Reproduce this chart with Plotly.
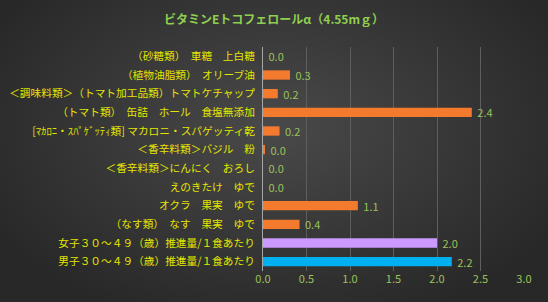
import base64
import struct
import zlib
import plotly.graph_objects as go

categories = [
    "（砂糖類）　車糖　上白糖",
    "（植物油脂類）　オリーブ油",
    "＜調味料類＞（トマト加工品類）トマトケチャップ",
    "（トマト類）　缶詰　ホール　食塩無添加",
    "[ﾏｶﾛﾆ・ｽﾊﾟｹﾞｯﾃｨ類] マカロニ・スパゲッティ乾",
    "＜香辛料類＞バジル　粉",
    "＜香辛料類＞にんにく　おろし",
    "えのきたけ　ゆで",
    "オクラ　果実　ゆで",
    "（なす類）　なす　果実　ゆで",
    "女子３０～４９（歳）推進量/１食あたり",
    "男子３０～４９（歳）推進量/１食あたり",
]
values = [0.0, 0.31, 0.17, 2.4, 0.19, 0.02, 0.0, 0.0, 1.09, 0.42, 2.0, 2.17]
colors = ["#f47a2e"] * 10 + ["#cc99ff", "#00b0f0"]
title = "ビタミンEトコフェロールα（4.55mｇ）"
xticks = [0.0, 0.5, 1.0, 1.5, 2.0, 2.5, 3.0]

font = "Noto Sans CJK JP"
green = "#9bc25a"


def radial_png(w, h, inner, outer):
    rows = []
    for j in range(h):
        row = bytearray([0])
        for i in range(w):
            dx = (i / (w - 1) - 0.5) / 0.5
            dy = (j / (h - 1) - 0.42) / 0.58
            d = min(1.0, (dx * dx + dy * dy) ** 0.5 / 1.2)
            c = int(round(inner + (outer - inner) * d))
            row += bytes([c, c, c])
        rows.append(bytes(row))
    raw = b"".join(rows)

    def chunk(t, data):
        c = struct.pack(">I", len(data)) + t + data
        return c + struct.pack(">I", zlib.crc32(t + data) & 0xFFFFFFFF)

    png = b"\x89PNG\r\n\x1a\n" + chunk(b"IHDR", struct.pack(">IIBBBBB", w, h, 8, 2, 0, 0, 0))
    png += chunk(b"IDAT", zlib.compress(raw)) + chunk(b"IEND", b"")
    return "data:image/png;base64," + base64.b64encode(png).decode()


bg = radial_png(137, 76, 0x4a, 0x28)

fig = go.Figure()
fig.add_trace(go.Bar(
    y=categories, x=values, orientation="h",
    marker=dict(color=colors, line=dict(width=0)),
    text=[f" {v:.1f}" for v in values], textposition="outside",
    textfont=dict(color=green, size=11, family=font),
    constraintext="none",
    cliponaxis=False,
))
fig.update_layout(
    width=548, height=302,
    margin=dict(l=263, r=24, t=47, b=31),
    paper_bgcolor="#3a3a3a", plot_bgcolor="rgba(0,0,0,0)",
    images=[dict(source=bg, xref="paper", yref="paper", x=-263 / 261, y=1 + 47 / 224,
                 sizex=548 / 261, sizey=302 / 224, xanchor="left", yanchor="top",
                 sizing="stretch", layer="below")],
    bargap=0.5, showlegend=False,
    title=dict(text="<b>" + title + "</b>", x=0.5, xanchor="center", y=0.935, yanchor="middle",
               font=dict(color="#8fcf4f", size=12, family=font)),
    xaxis=dict(range=[0, 3.0], tickvals=xticks, ticktext=[f"{t:.1f}" for t in xticks],
               showgrid=True, gridcolor="#5e5e5e", gridwidth=1, zeroline=False,
               tickfont=dict(color=green, size=11, family=font), ticks="", showline=False,
               automargin=False),
    yaxis=dict(autorange="reversed", showgrid=False, showline=True, linecolor="#a6a6a6",
               linewidth=1, tickfont=dict(color="#e5e500", size=10.7, family=font),
               ticks="", ticklabelstandoff=5, automargin=False),
)
fig.write_html("out.html")
